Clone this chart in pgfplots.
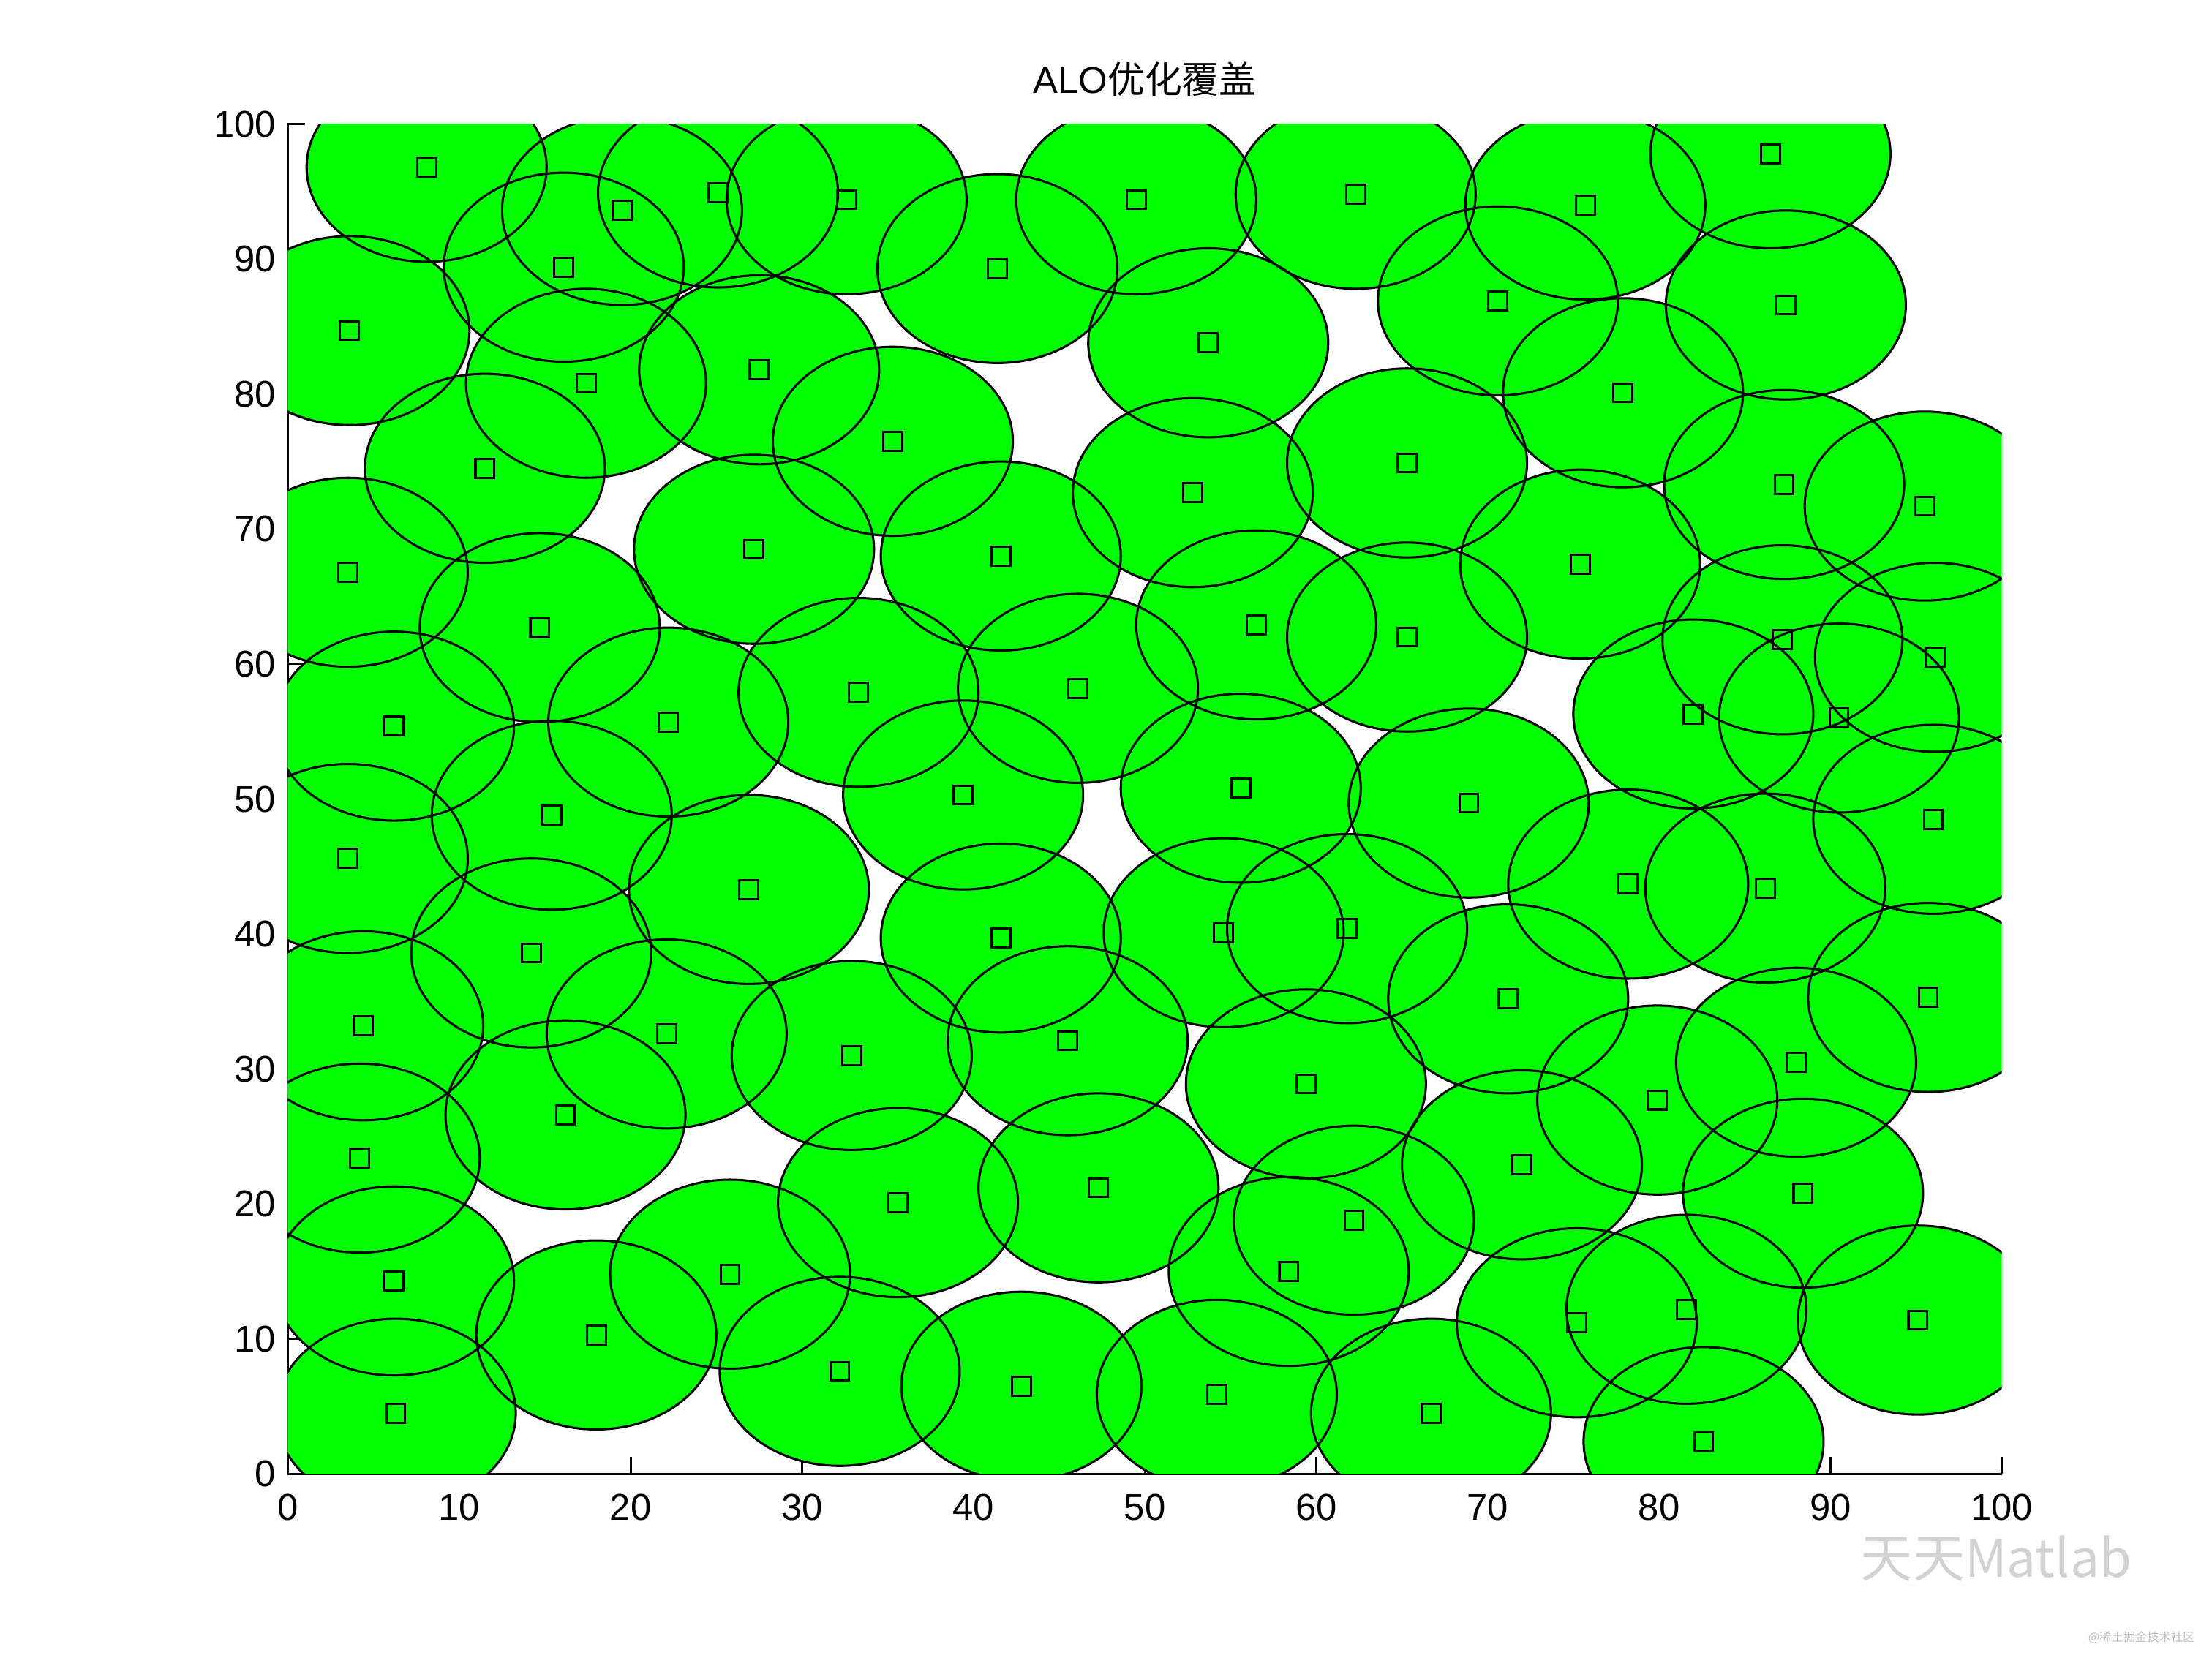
\documentclass[border=0pt]{standalone}
\usepackage{fontspec}
\setmainfont{Liberation Sans}
\newfontfamily\cjk{Noto Sans CJK SC}
\usepackage{pgfplots}
\usepackage{pgfplotstable}
\pgfplotsset{compat=1.18}
\definecolor{covgreen}{RGB}{0,255,0}

% sensing disc, radius 7 data units (axis is 12.15cm x 9.57cm for 100 x 100)
\pgfdeclareplotmark{discfill}{%
  \pgfpathellipse{\pgfpointorigin}{\pgfpoint{0.8505cm}{0pt}}{\pgfpoint{0pt}{0.6699cm}}%
  \pgfusepathqfill}
\pgfdeclareplotmark{discline}{%
  \pgfpathellipse{\pgfpointorigin}{\pgfpoint{0.8505cm}{0pt}}{\pgfpoint{0pt}{0.6699cm}}%
  \pgfusepathqstroke}

\pgfplotstableread{
x y
8.1 96.8
19.5 93.6
25.1 94.9
32.6 94.4
49.5 94.4
62.3 94.8
75.7 94.0
86.5 97.8
3.6 84.7
16.1 89.4
41.4 89.3
53.7 83.8
70.6 86.9
87.4 86.6
17.4 80.8
27.5 81.8
35.3 76.5
77.9 80.1
11.5 74.5
52.8 72.7
65.3 74.9
87.3 73.3
95.5 71.7
3.5 66.8
27.2 68.5
41.6 68.0
75.4 67.4
14.7 62.7
56.5 62.9
65.3 62.0
87.2 61.8
96.1 60.5
6.2 55.4
22.2 55.7
33.3 57.9
46.1 58.2
82.0 56.3
90.5 56.0
3.5 45.6
15.4 48.8
39.4 50.3
55.6 50.8
68.9 49.7
96.0 48.5
26.9 43.3
78.2 43.7
86.2 43.4
41.6 39.7
54.6 40.1
61.8 40.4
14.2 38.6
4.4 33.2
22.1 32.6
71.2 35.2
95.7 35.3
32.9 31.0
45.5 32.1
88.0 30.5
16.2 26.6
59.4 28.9
79.9 27.7
4.2 23.4
72.0 22.9
35.6 20.1
47.3 21.2
88.4 20.8
62.2 18.8
6.2 14.3
25.8 14.8
58.4 15.0
18.0 10.3
75.2 11.2
81.6 12.2
95.1 11.4
32.2 7.6
42.8 6.5
54.2 5.9
6.3 4.5
66.7 4.5
82.6 2.4
}\sensors

\begin{document}
\begin{tikzpicture}
\begin{axis}[
  scale only axis,
  width=12.15cm, height=9.57cm,
  xmin=0, xmax=100, ymin=0, ymax=100,
  axis x line=bottom, axis y line=left,
  axis line style={-, black, line width=0.45pt},
  tick align=inside,
  major tick length=0.12cm,
  tick style={black, line width=0.45pt},
  xtick={0,10,...,100}, ytick={0,10,...,100},
  ticklabel style={font=\fontsize{7.5}{9}\selectfont},
  xticklabel style={yshift=-0.02cm},
  yticklabel style={xshift=0.04cm},
  /pgf/number format/assume math mode=true,
  clip marker paths=true,
  title={ALO{\cjk 优化覆盖}},
  title style={at={(0.5,1)}, anchor=base, yshift=0.01cm,
               font=\fontsize{7.5}{9}\selectfont},
]
% fills first, outlines afterwards, so all rims stay visible
\addplot[only marks, color=covgreen, mark=discfill,
         mark options={fill=covgreen}] table {\sensors};
\addplot[only marks, color=black, mark=discline,
         mark options={draw=black, line width=0.45pt}] table {\sensors};
\addplot[only marks, color=black, mark=square, mark size=1.9pt,
         mark options={draw=black, fill=none, line width=0.45pt}] table {\sensors};
\end{axis}
% watermark
\node[text=gray!35, inner sep=0pt] at ([shift={(-0.04cm,-0.60cm)}]current axis.south east)
  {\cjk\fontsize{10.5}{12}\selectfont 天天Matlab};
\node[text=gray!50, inner sep=0pt] at ([shift={(0.99cm,-1.16cm)}]current axis.south east)
  {\cjk\fontsize{2.4}{3}\selectfont @稀土掘金技术社区};
\path ([shift={(-2.04cm,-1.30cm)}]current axis.south west)
  rectangle ([shift={(1.49cm,0.88cm)}]current axis.north east);
\end{tikzpicture}
\end{document}
